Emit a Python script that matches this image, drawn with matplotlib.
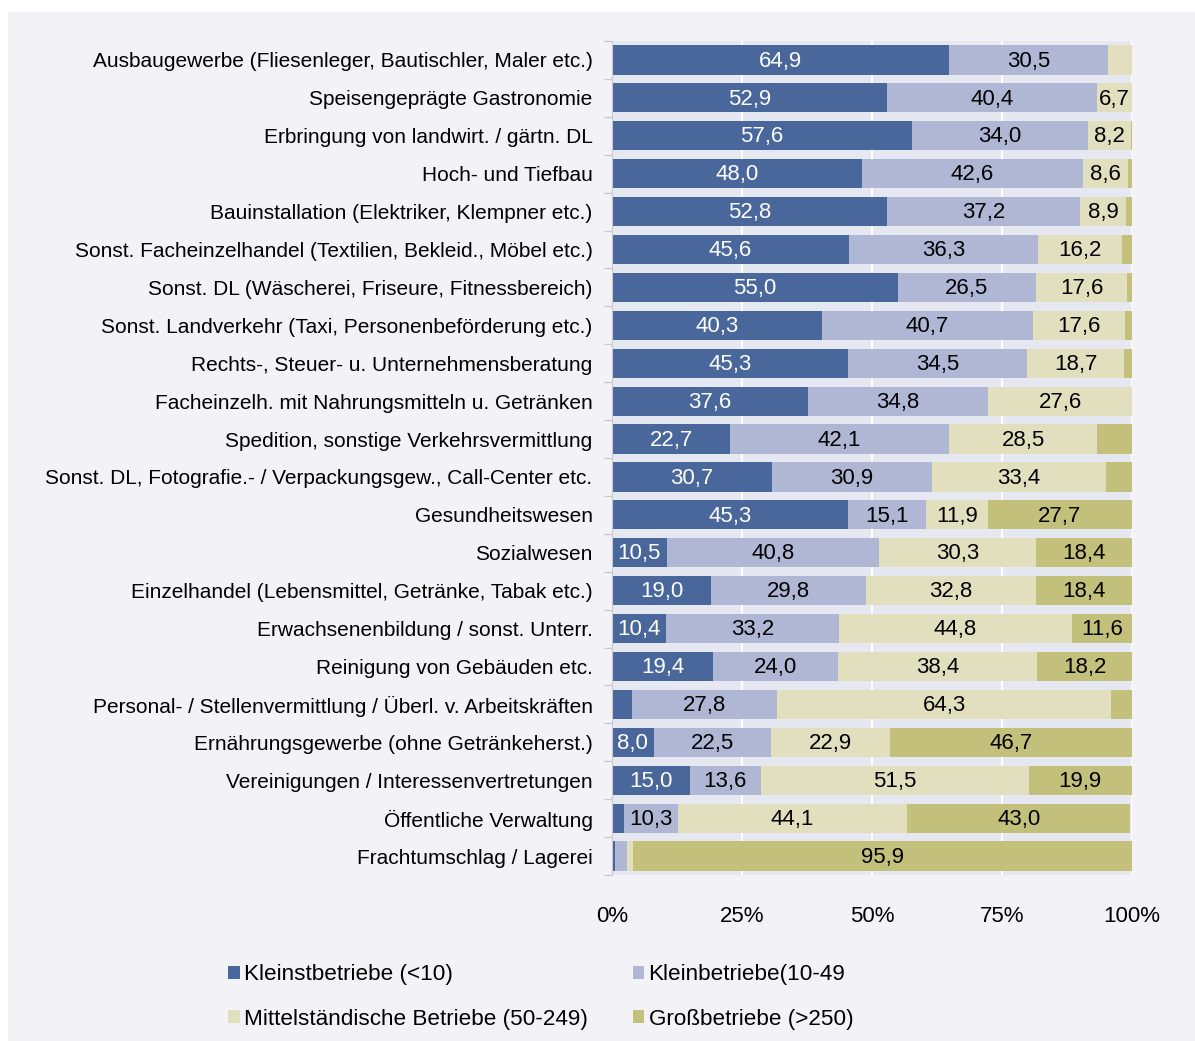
import numpy as np
import matplotlib
matplotlib.use('Agg')
import matplotlib.pyplot as plt
from matplotlib.patches import Rectangle, Patch

plt.rcParams.update({
    'font.family': ['Liberation Sans', 'DejaVu Sans'],
    'font.size': 15,
})

categories = [
    'Ausbaugewerbe (Fliesenleger, Bautischler, Maler etc.)',
    'Speisengeprägte Gastronomie',
    'Erbringung von landwirt. / gärtn. DL',
    'Hoch- und Tiefbau',
    'Bauinstallation (Elektriker, Klempner etc.)',
    'Sonst. Facheinzelhandel (Textilien, Bekleid., Möbel etc.)',
    'Sonst. DL (Wäscherei, Friseure, Fitnessbereich)',
    'Sonst. Landverkehr (Taxi, Personenbeförderung etc.)',
    'Rechts-, Steuer- u. Unternehmensberatung',
    'Facheinzelh. mit Nahrungsmitteln u. Getränken',
    'Spedition, sonstige Verkehrsvermittlung',
    'Sonst. DL, Fotografie.- / Verpackungsgew., Call-Center etc.',
    'Gesundheitswesen',
    'Sozialwesen',
    'Einzelhandel (Lebensmittel, Getränke, Tabak etc.)',
    'Erwachsenenbildung / sonst. Unterr.',
    'Reinigung von Gebäuden etc.',
    'Personal- / Stellenvermittlung / Überl. v. Arbeitskräften',
    'Ernährungsgewerbe (ohne Getränkeherst.)',
    'Vereinigungen / Interessenvertretungen',
    'Öffentliche Verwaltung',
    'Frachtumschlag / Lagerei',
]

series_names = ['Kleinstbetriebe (<10)', 'Kleinbetriebe(10-49',
                'Mittelständische Betriebe (50-249)', 'Großbetriebe (>250)']

kleinst = [64.9, 52.9, 57.6, 48.0, 52.8, 45.6, 55.0, 40.3, 45.3, 37.6, 22.7,
           30.7, 45.3, 10.5, 19.0, 10.4, 19.4, 3.9, 8.0, 15.0, 2.3, 0.5]
klein = [30.5, 40.4, 34.0, 42.6, 37.2, 36.3, 26.5, 40.7, 34.5, 34.8, 42.1,
         30.9, 15.1, 40.8, 29.8, 33.2, 24.0, 27.8, 22.5, 13.6, 10.3, 2.3]
mittel = [4.6, 6.7, 8.2, 8.6, 8.9, 16.2, 17.6, 17.6, 18.7, 27.6, 28.5,
          33.4, 11.9, 30.3, 32.8, 44.8, 38.4, 64.3, 22.9, 51.5, 44.1, 1.3]
gross = [0.0, 0.0, 0.2, 0.8, 1.1, 1.9, 0.9, 1.4, 1.5, 0.0, 6.7,
         5.0, 27.7, 18.4, 18.4, 11.6, 18.2, 4.0, 46.7, 19.9, 43.0, 95.9]

# segments whose value is not printed in the chart
unlabelled = {(0, 2), (2, 3), (3, 3), (4, 3), (5, 3), (6, 3), (7, 3), (8, 3),
              (10, 3), (11, 3), (17, 0), (17, 3), (20, 0),
              (21, 0), (21, 1), (21, 2)}

colors = ['#4a679b', '#afb7d5', '#e2dfbf', '#c3c07c']
text_colors = ['white', 'black', 'black', 'black']

fig = plt.figure(figsize=(11.95, 10.41), dpi=100)
fig.patch.set_facecolor('white')
fig.add_artist(Rectangle((8 / 1195, 0), 1, 1 - 12 / 1041, transform=fig.transFigure,
                         facecolor='#f2f2f7', edgecolor='none', zorder=0))

ax = fig.add_axes([612 / 1195, 1 - 875 / 1041, 520 / 1195, 834 / 1041])
ax.set_facecolor('#e6e8f1')

y = np.arange(len(categories))
data = [kleinst, klein, mittel, gross]
left = np.zeros(len(categories))
for s, vals in enumerate(data):
    vals = np.array(vals)
    ax.barh(y, vals, left=left, height=0.77, color=colors[s], linewidth=0,
            label=series_names[s], zorder=3)
    for i, v in enumerate(vals):
        if v > 0 and (i, s) not in unlabelled:
            ax.text(left[i] + v / 2, y[i] + 0.03, f'{v:.1f}'.replace('.', ','),
                    ha='center', va='center', color=text_colors[s],
                    fontsize=16, zorder=4)
    left += vals

ax.set_xlim(0, 100)
ax.set_ylim(len(categories) - 0.5, -0.5)
ax.set_xticks([0, 25, 50, 75, 100])
ax.set_xticklabels(['0%', '25%', '50%', '75%', '100%'], fontsize=16)
ax.tick_params(axis='x', length=0, pad=22)
ax.set_yticks(y)
ax.set_yticklabels(categories, fontsize=15)
ax.tick_params(axis='y', length=0, pad=14)
ax.set_yticks(np.arange(len(categories) + 1) - 0.5, minor=True)
ax.tick_params(axis='y', which='minor', length=6, color='#c8c8d0', width=1)
ax.grid(axis='x', color='white', linewidth=1.5, zorder=1)
ax.set_axisbelow(True)

for side in ['top', 'bottom', 'right']:
    ax.spines[side].set_visible(False)
ax.spines['left'].set_color('#c8c8d0')
ax.spines['left'].set_zorder(5)

# row-major legend order: Kleinst, Klein / Mittel, Groß
order = [0, 2, 1, 3]
handles = [Patch(facecolor=colors[k], edgecolor='none') for k in order]
labels = [series_names[k] for k in order]
fig.legend(handles, labels, loc='center left', ncol=2,
           bbox_to_anchor=(217 / 1195, 1 - 997 / 1041), frameon=False,
           fontsize=16.2, handlelength=0.5, handleheight=0.5,
           handletextpad=0.2, borderpad=0, columnspacing=2.0, labelspacing=1.05)

fig.savefig('out.png', dpi=100, facecolor=fig.get_facecolor())
